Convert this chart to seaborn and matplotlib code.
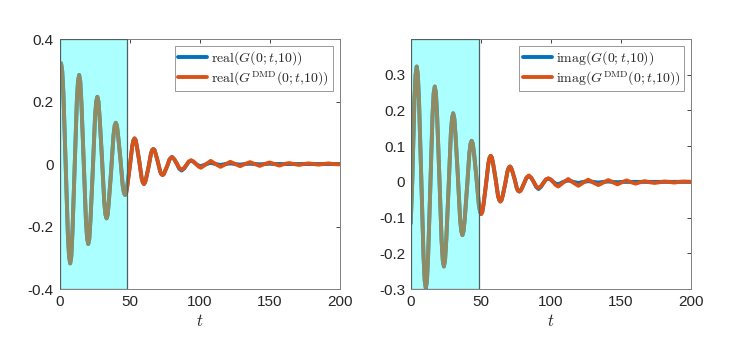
#!/usr/bin/env python3
"""
Green's function G(0; t, 10): exact vs DMD reconstruction (real / imag parts).
Shaded window = training data used for DMD.
"""

import matplotlib
matplotlib.use("Agg")
import matplotlib.pyplot as plt
import numpy as np
import pandas as pd
import seaborn as sns

BLUE = "#0072BD"
ORANGE = "#D95319"
TRAIN_END = 48.5

# ---- real part: shared head (exact and DMD agree), separate tails ----
t_real_head = [0.0, 0.5, 1.1, 1.9, 2.75, 4.35, 5.95, 6.8, 7.6, 8.4, 9.25, 10.8,
               12.35, 13.2, 14.0, 14.8, 15.65, 17.25, 18.85, 19.7, 20.5, 21.3,
               22.15, 23.75, 25.35, 26.2, 27.0, 27.8, 28.65, 30.3, 31.95, 32.8,
               33.6, 34.4, 35.25, 36.9, 38.55, 39.4, 40.2, 41.0, 41.85, 43.5,
               45.15, 46.0, 46.8, 47.6, 48.45, 50.2, 51.95, 52.8, 53.6, 54.4,
               55.25, 56.95, 58.65, 59.5, 60.3, 61.1, 61.95, 63.65, 65.35, 66.2,
               67.0, 67.8, 68.65, 70.3, 71.95, 72.8, 73.6, 74.4, 75.25, 76.95,
               78.6]
real_head = [0.300, 0.318, 0.322, 0.298, 0.228, 0.002, -0.225, -0.296, -0.318,
             -0.296, -0.215, -0.010, 0.200, 0.265, 0.285, 0.265, 0.195, 0.010,
             -0.180, -0.238, -0.256, -0.238, -0.175, -0.020, 0.150, 0.200, 0.215,
             0.200, 0.148, 0.020, -0.122, -0.162, -0.174, -0.162, -0.118, -0.020,
             0.092, 0.123, 0.132, 0.123, 0.090, 0.016, -0.070, -0.092, -0.099,
             -0.092, -0.068, -0.008, 0.058, 0.076, 0.082, 0.076, 0.056, 0.009,
             -0.045, -0.059, -0.064, -0.059, -0.044, -0.008, 0.034, 0.045, 0.048,
             0.045, 0.033, 0.006, -0.025, -0.033, -0.035, -0.033, -0.024, -0.006,
             0.015]

t_real_tail = [80.3, 82.0, 83.75, 85.5, 87.2, 88.9, 90.6, 92.3, 94.0, 95.7,
               97.5, 99.3, 101.0, 104.5, 108.0, 111.5, 115.0, 118.5, 122.0,
               125.5, 129.0, 132.5, 136.0, 139.5, 143.0, 146.5, 150.0, 153.5,
               157.0, 160.5, 164.0, 167.5, 171.0, 174.5, 178.0, 181.5, 185.0,
               188.5, 192.0, 195.5, 199.0, 200.0]
real_dmd_tail = [0.022, 0.015, 0.002, -0.013, -0.018, -0.013, -0.003, 0.008,
                 0.012, 0.008, 0.000, -0.008, -0.012, -0.001, 0.010, 0.000,
                 -0.009, -0.001, 0.007, 0.000, -0.007, 0.000, 0.006, 0.000,
                 -0.006, 0.000, 0.005, 0.000, -0.005, 0.000, 0.003, 0.000,
                 -0.003, 0.000, 0.002, 0.000, -0.002, 0.000, 0.002, 0.000,
                 -0.001, -0.001]
real_exact_tail = [0.023, 0.015, 0.001, -0.015, -0.021, -0.015, -0.004, 0.007,
                   0.011, 0.007, 0.000, -0.005, -0.007, -0.001, 0.004, 0.000,
                   -0.003, 0.000, 0.002, 0.000, -0.002, 0.000, 0.001, 0.000,
                   -0.001, 0.000, 0.001, 0.000, 0.000, 0.000, 0.000, 0.000,
                   0.000, 0.000, 0.000, 0.000, 0.000, 0.000, 0.000, 0.000,
                   0.000, 0.000]

# ---- imaginary part ----
t_imag_head = [0.0, 1.1, 2.65, 3.5, 4.3, 5.1, 5.95, 7.55, 9.15, 10.0, 10.8,
               11.6, 12.45, 14.0, 15.55, 16.4, 17.2, 18.0, 18.85, 20.45, 22.05,
               22.9, 23.7, 24.5, 25.35, 27.0, 28.65, 29.5, 30.3, 31.1, 31.95,
               33.6, 35.25, 36.1, 36.9, 37.7, 38.55, 40.2, 41.85, 42.7, 43.5,
               44.3, 45.2, 46.9, 48.6, 49.5, 50.3, 51.1, 52.0, 53.7, 55.4, 56.3,
               57.1, 57.9, 58.8, 60.55, 62.3, 63.2, 64.0, 64.8, 65.7, 67.4, 69.1,
               70.0, 70.8, 71.6, 72.5, 74.15, 75.8, 76.7, 77.5, 78.3, 79.2]
imag_head = [-0.116, 0.000, 0.228, 0.300, 0.323, 0.300, 0.225, 0.010, -0.208,
             -0.277, -0.298, -0.277, -0.205, -0.015, 0.185, 0.248, 0.267, 0.248,
             0.185, 0.015, -0.165, -0.220, -0.237, -0.220, -0.165, -0.020, 0.135,
             0.178, 0.192, 0.178, 0.133, 0.020, -0.105, -0.138, -0.149, -0.138,
             -0.104, -0.016, 0.080, 0.107, 0.115, 0.107, 0.080, 0.012, -0.063,
             -0.084, -0.090, -0.084, -0.062, -0.008, 0.051, 0.068, 0.073, 0.068,
             0.051, 0.009, -0.039, -0.051, -0.055, -0.051, -0.038, -0.006, 0.030,
             0.040, 0.043, 0.040, 0.030, 0.008, -0.019, -0.025, -0.027, -0.025,
             -0.019]

t_imag_tail = [80.9, 82.6, 84.3, 86.0, 87.75, 89.5, 91.2, 92.95, 94.7, 96.45,
               98.2, 99.95, 101.75, 103.5, 105.3, 108.85, 112.4, 116.0, 119.6,
               123.15, 126.7, 130.3, 133.9, 137.45, 141.0, 144.25, 147.5,
               150.8, 154.1, 157.3, 160.5, 163.75, 167.0, 170.5, 174.0, 177.5,
               181.0, 184.5, 188.0, 191.5, 195.0, 200.0]
imag_dmd_tail = [-0.004, 0.012, 0.018, 0.012, 0.000, -0.012, -0.017, -0.012,
                 -0.003, 0.007, 0.010, 0.007, -0.001, -0.009, -0.013, -0.002,
                 0.008, -0.002, -0.011, -0.002, 0.006, -0.002, -0.009, -0.002,
                 0.005, -0.001, -0.007, -0.001, 0.004, -0.001, -0.005, -0.001,
                 0.002, -0.001, -0.003, -0.001, 0.001, 0.000, -0.002, 0.000,
                 0.001, 0.000]
imag_exact_tail = [-0.004, 0.011, 0.016, 0.011, 0.000, -0.014, -0.020, -0.014,
                   -0.003, 0.006, 0.009, 0.006, 0.000, -0.005, -0.007, 0.000,
                   0.004, 0.000, -0.003, 0.000, 0.002, 0.000, -0.002, 0.000,
                   0.001, 0.000, -0.001, 0.000, 0.000, 0.000, 0.000, 0.000,
                   0.000, 0.000, 0.000, 0.000, 0.000, 0.000, 0.000, 0.000,
                   0.000, 0.000]


def make_frame(t_head, head, t_tail, exact_tail, dmd_tail, lab_exact, lab_dmd):
    t = t_head + t_tail
    exact = pd.DataFrame({"t": t, "val": head + exact_tail, "series": lab_exact})
    dmd = pd.DataFrame({"t": t, "val": head + dmd_tail, "series": lab_dmd})
    return pd.concat([exact, dmd], ignore_index=True)


def style_axes(ax, ylim, yticks):
    ax.set_xlim(0, 200)
    ax.set_ylim(*ylim)
    ax.set_xticks([0, 50, 100, 150, 200])
    ax.set_yticks(yticks)
    ax.set_yticklabels([f"{v:g}" for v in yticks])
    ax.tick_params(direction="in", length=3, width=0.6, colors="#262626",
                   labelsize=11, top=True, right=True, pad=4)
    for s in ax.spines.values():
        s.set_color("#808080")
        s.set_linewidth(0.7)
        s.set_visible(True)
    ax.set_xlabel("$t$", fontsize=12, labelpad=3)
    ax.set_ylabel("")
    # training window, drawn over the curves like the original patch
    ax.axvspan(0, TRAIN_END, facecolor=(0.0, 1.0, 1.0, 0.33),
               edgecolor=(0.3, 0.38, 0.38, 1.0), linewidth=0.9, zorder=3)
    leg = ax.legend(loc="upper right", fontsize=10, frameon=True, fancybox=False,
                    borderpad=0.25, handlelength=2.1, handletextpad=0.3,
                    labelspacing=0.15, borderaxespad=0.5)
    leg.get_frame().set_edgecolor("#808080")
    leg.get_frame().set_linewidth(0.7)
    leg.set_zorder(5)


def main():
    sns.set_style("white")
    plt.rcParams["font.family"] = ["Liberation Sans", "DejaVu Sans"]
    plt.rcParams["mathtext.fontset"] = "cm"

    lab_re = r"$\mathrm{real}(G(0;t{,}10))$"
    lab_re_dmd = r"$\mathrm{real}(G^{\mathrm{DMD}}(0;t{,}10))$"
    lab_im = r"$\mathrm{imag}(G(0;t{,}10))$"
    lab_im_dmd = r"$\mathrm{imag}(G^{\mathrm{DMD}}(0;t{,}10))$"

    df_re = make_frame(t_real_head, real_head, t_real_tail,
                       real_exact_tail, real_dmd_tail, lab_re, lab_re_dmd)
    df_im = make_frame(t_imag_head, imag_head, t_imag_tail,
                       imag_exact_tail, imag_dmd_tail, lab_im, lab_im_dmd)

    fig = plt.figure(figsize=(7.47, 3.37), dpi=100)
    ax1 = fig.add_axes([0.0797, 0.1424, 0.3748, 0.7418])
    ax2 = fig.add_axes([0.5498, 0.1424, 0.3752, 0.7418])

    sns.lineplot(data=df_re, x="t", y="val", hue="series",
                 palette={lab_re: BLUE, lab_re_dmd: ORANGE},
                 hue_order=[lab_re, lab_re_dmd], linewidth=2.8, ax=ax1,
                 sort=False, estimator=None)
    style_axes(ax1, (-0.4, 0.4), [-0.4, -0.2, 0, 0.2, 0.4])

    sns.lineplot(data=df_im, x="t", y="val", hue="series",
                 palette={lab_im: BLUE, lab_im_dmd: ORANGE},
                 hue_order=[lab_im, lab_im_dmd], linewidth=2.8, ax=ax2,
                 sort=False, estimator=None)
    style_axes(ax2, (-0.3, 0.4), [-0.3, -0.2, -0.1, 0, 0.1, 0.2, 0.3])

    fig.savefig("out.png", dpi=100)
    plt.close(fig)


if __name__ == "__main__":
    main()
